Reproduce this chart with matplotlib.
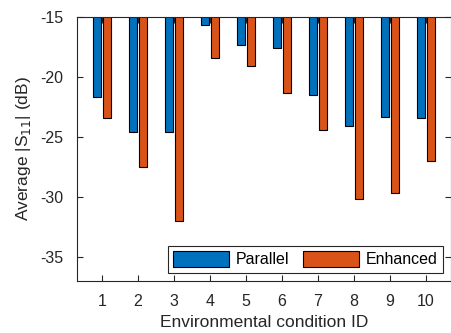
import numpy as np
import matplotlib.pyplot as plt

plt.rcParams['font.family'] = ['Liberation Sans', 'DejaVu Sans']
plt.rcParams['axes.unicode_minus'] = False

# Average |S11| per environmental condition (dB)
condition_ids = [1, 2, 3, 4, 5, 6, 7, 8, 9, 10]
parallel = [-21.7, -24.6, -24.6, -15.7, -17.3, -17.6, -21.5, -24.1, -23.3, -23.4]
enhanced = [-23.4, -27.5, -32.0, -18.4, -19.1, -21.3, -24.4, -30.2, -29.7, -27.0]

x = np.array(condition_ids)
width = 0.22
offset = 0.14

fig = plt.figure(figsize=(4.52, 3.33), dpi=100)
ax = fig.add_axes([0.170, 0.156, 0.828, 0.793])

ax.bar(x - offset, parallel, width, color='#0072BD', edgecolor='black',
       linewidth=0.8, label='Parallel')
ax.bar(x + offset, enhanced, width, color='#D95319', edgecolor='black',
       linewidth=0.8, label='Enhanced')

ax.set_xlim(0.3, 10.7)
ax.set_ylim(-37, -15)
ax.set_xticks(condition_ids)
ax.set_yticks([-35, -30, -25, -20, -15])
ax.tick_params(direction='in', length=4, labelsize=11.5, colors='#262626',
               top=True, right=True, width=0.8)
ax.tick_params(axis='x', pad=9)
ax.tick_params(axis='y', pad=10)
for s in ax.spines.values():
    s.set_color('#262626')
    s.set_linewidth(0.8)

ax.set_xlabel('Environmental condition ID', fontsize=12.5, color='#262626', labelpad=5)
ax.set_ylabel('Average |S$_{11}$| (dB)', fontsize=12.5, color='#262626', labelpad=5)

leg = ax.legend(loc='lower right', ncol=2, fontsize=11.5, handlelength=3.5,
                handleheight=1.1, fancybox=False, framealpha=1,
                edgecolor='#262626', borderaxespad=0.5, columnspacing=0.9,
                handletextpad=0.4, borderpad=0.35)
leg.get_frame().set_linewidth(0.8)

fig.savefig('out.png', dpi=100)
